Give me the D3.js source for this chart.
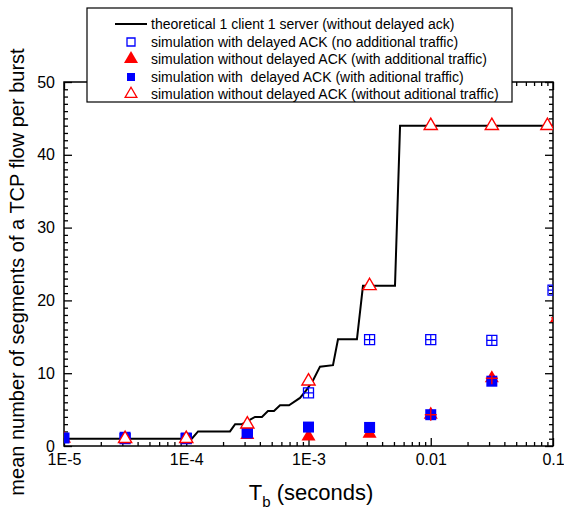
<!DOCTYPE html>
<html>
<head>
<meta charset="utf-8">
<title>segments per burst vs Tb</title>
<style>
body { margin: 0; background: #fff; }
svg text { font-family: "Liberation Sans", Arial, Helvetica, sans-serif; }
</style>
</head>
<body>
<div id="chart"></div>
<script src="https://cdn.jsdelivr.net/npm/d3@7"></script>
<script>

// theoretical curve, vertices of the step line
var theoT = [1e-5, 1.11e-4, 1.25e-4, 2.28e-4, 2.51e-4, 2.86e-4, 3.65e-4, 4.16e-4, 4.66e-4, 5.22e-4,
             5.85e-4, 6.93e-4, 8.52e-4, 9.54e-4, 1.088e-3, 1.242e-3, 1.586e-3, 1.743e-3, 2.49e-3,
             2.79e-3, 5.10e-3, 5.61e-3, 0.1];
var theoN = [1, 1, 2, 2, 3, 3, 4, 4, 4.8, 4.8,
             5.6, 5.6, 6.6, 7.6, 9, 10.9, 11.1, 14.65, 14.65,
             22, 22, 44, 44];

// simulations
var simT      = [1e-5, 3.16e-5, 1e-4, 3.16e-4, 1e-3, 3.16e-3, 0.01, 0.0316, 0.1];
var dackNoAdd = [null, 1, 1, 2, 7.3, 14.6, 14.6, 14.5, 21.4];   // open squares
var noDackAddT = [1e-5, 3.16e-5, 1e-4, 3.16e-4, 1e-3, 3.16e-3, 0.01, 0.0316, 0.108];
var noDackAdd = [1, 1, 1, 1.5, 1.3, 1.7, 4.3, 9.3, 17.6];       // filled triangles
var noDackAddErr = [0, 0, 0, 0, 0, 0, 1, 1, 1];
var dackAdd   = [1.1, 1.2, 1.1, 1.8, 2.6, 2.55, 4.3, 8.9, null]; // filled squares
var noDackNoAddT = [1e-5, 3.16e-5, 1e-4, 3.16e-4, 1e-3, 3.16e-3, 0.01, 0.0316, 0.09];
var noDackNoAdd = [null, 1, 1, 3, 8.9, 22, 44, 44, 44];          // open triangles

var xTicks = [1e-5, 1e-4, 1e-3, 0.01, 0.1];
var xTickLabels = ["1E-5", "1E-4", "1E-3", "0.01", "0.1"];
var yTicks = [0, 10, 20, 30, 40, 50];

var legendLabels = [
  "theoretical 1 client 1 server (without delayed ack)",
  "simulation with delayed ACK (no additional traffic)",
  "simulation without delayed ACK (with additional traffic)",
  "simulation with  delayed ACK (with aditional traffic)",
  "simulation without delayed ACK (without aditional traffic)"
];

var width = 564, height = 513;
var pLeft = 64, pRight = 553, pTop = 82, pBottom = 446;

var x = d3.scaleLog().domain([1e-5, 0.1]).range([pLeft, pRight]);
var y = d3.scaleLinear().domain([0, 50]).range([pBottom, pTop]);

var svg = d3.select("#chart").append("svg")
  .attr("width", width)
  .attr("height", height);

svg.append("defs").append("clipPath").attr("id", "plotclip")
  .append("rect").attr("x", pLeft).attr("y", pTop)
  .attr("width", pRight - pLeft).attr("height", pBottom - pTop);

// minor ticks
var xMinor = [];
for (var e = -5; e < -1; e++) {
  for (var k = 2; k <= 9; k++) xMinor.push(k * Math.pow(10, e));
}
var yMinor = d3.range(0, 51, 1).filter(function(v) { return v % 10 != 0; });

function noLabels(a) { return a.tickFormat(""); }

svg.append("g").attr("transform", "translate(0," + pBottom + ")")
  .call(noLabels(d3.axisBottom(x).tickValues(xMinor).tickSize(-4)));
svg.append("g").attr("transform", "translate(0," + pTop + ")")
  .call(noLabels(d3.axisTop(x).tickValues(xMinor).tickSize(-4)));
svg.append("g").attr("transform", "translate(" + pLeft + ",0)")
  .call(noLabels(d3.axisLeft(y).tickValues(yMinor).tickSize(-4)));
svg.append("g").attr("transform", "translate(" + pRight + ",0)")
  .call(noLabels(d3.axisRight(y).tickValues(yMinor).tickSize(-4)));

svg.append("g").attr("class", "major").attr("transform", "translate(0," + pBottom + ")")
  .call(d3.axisBottom(x).tickValues(xTicks).tickSize(-8).tickPadding(8)
    .tickFormat(function(d, i) { return xTickLabels[i]; }));
svg.append("g").attr("transform", "translate(0," + pTop + ")")
  .call(noLabels(d3.axisTop(x).tickValues(xTicks).tickSize(-8)));
svg.append("g").attr("class", "major").attr("transform", "translate(" + pLeft + ",0)")
  .call(d3.axisLeft(y).tickValues(yTicks).tickSize(-8).tickPadding(9));
svg.append("g").attr("transform", "translate(" + pRight + ",0)")
  .call(noLabels(d3.axisRight(y).tickValues(yTicks).tickSize(-8)));

svg.selectAll(".tick line").attr("stroke", "#000").attr("stroke-width", 1.3);
svg.selectAll(".domain").remove();
svg.selectAll(".major text").attr("font-size", 16).attr("fill", "#000")
  .style("font-family", '"Liberation Sans", Arial, sans-serif');

// frame
svg.append("rect").attr("x", pLeft).attr("y", pTop)
  .attr("width", pRight - pLeft).attr("height", pBottom - pTop)
  .attr("fill", "none").attr("stroke", "#000").attr("stroke-width", 1.5);

var plot = svg.append("g").attr("clip-path", "url(#plotclip)");

// theoretical line
var line = d3.line()
  .x(function(d, i) { return x(theoT[i]); })
  .y(function(d) { return y(d); });
plot.append("path").datum(theoN)
  .attr("d", line)
  .attr("fill", "none")
  .attr("stroke", "#000")
  .attr("stroke-width", 2);

var blue = "#0000ff", red = "#ff0000";
var sqOpen = d3.symbol().type(d3.symbolSquare).size(100);
var sqFill = d3.symbol().type(d3.symbolSquare).size(121);
var triOpen = d3.symbol().type(d3.symbolTriangle).size(75);
var triFill = d3.symbol().type(d3.symbolTriangle).size(85);

function pts(xs, ys) {
  var out = [];
  ys.forEach(function(v, i) { if (v != null) out.push({ t: xs[i], v: v, i: i }); });
  return out;
}
function tr(d) { return "translate(" + x(d.t) + "," + y(d.v) + ")"; }

// open squares with error cross
var os = plot.selectAll(".os").data(pts(simT, dackNoAdd)).enter().append("g")
  .attr("transform", tr);
os.append("path").attr("d", sqOpen).attr("fill", "none").attr("stroke", blue).attr("stroke-width", 1.3);
os.append("path").attr("d", "M-5,0H5M0,-5V5").attr("stroke", blue).attr("stroke-width", 1.2);

// filled triangles
plot.selectAll(".ft").data(pts(noDackAddT, noDackAdd)).enter().append("path")
  .attr("transform", tr).attr("d", triFill).attr("fill", red);

// filled squares
plot.selectAll(".fs").data(pts(simT, dackAdd)).enter().append("path")
  .attr("transform", tr).attr("d", sqFill).attr("fill", blue);

// open triangles
plot.selectAll(".ot").data(pts(noDackNoAddT, noDackNoAdd)).enter().append("path")
  .attr("transform", tr).attr("d", triOpen).attr("fill", "#fff").attr("stroke", red).attr("stroke-width", 1.4);

// error crosses of filled triangles
plot.selectAll(".fe").data(pts(noDackAddT, noDackAdd).filter(function(d) { return noDackAddErr[d.i]; }))
  .enter().append("path")
  .attr("transform", tr).attr("d", "M-6,0H6M0,-6V6")
  .attr("stroke", red).attr("stroke-width", 1.4);

// legend
var lg = svg.append("g");
lg.append("rect").attr("x", 87).attr("y", 8).attr("width", 425).attr("height", 94)
  .attr("fill", "#fff").attr("stroke", "#000").attr("stroke-width", 1.2);
var rowY = [24, 42, 59, 77, 94];
lg.append("line").attr("x1", 115).attr("x2", 147).attr("y1", rowY[0]).attr("y2", rowY[0])
  .attr("stroke", "#000").attr("stroke-width", 2);
lg.append("path").attr("transform", "translate(131," + rowY[1] + ")").attr("d", sqOpen.size(64))
  .attr("fill", "none").attr("stroke", blue).attr("stroke-width", 1.3);
lg.append("path").attr("transform", "translate(131," + rowY[2] + ")").attr("d", triFill)
  .attr("fill", red);
lg.append("path").attr("transform", "translate(131," + rowY[3] + ")").attr("d", sqFill.size(64))
  .attr("fill", blue);
lg.append("path").attr("transform", "translate(131," + rowY[4] + ")").attr("d", triOpen.size(60))
  .attr("fill", "#fff").attr("stroke", red).attr("stroke-width", 1.3);
lg.selectAll(".lt").data(legendLabels).enter().append("text")
  .attr("x", 151).attr("y", function(d, i) { return rowY[i]; })
  .attr("dy", "0.36em").attr("font-size", 14).attr("fill", "#000")
  .style("white-space", "pre")
  .text(function(d) { return d; });

// axis titles
svg.append("text")
  .attr("transform", "translate(24,272) rotate(-90)")
  .attr("text-anchor", "middle").attr("font-size", 20).attr("fill", "#000")
  .text("mean number of segments of a TCP flow per burst");

var xt = svg.append("text").attr("x", 311).attr("y", 500)
  .attr("text-anchor", "middle").attr("font-size", 22).attr("fill", "#000");
xt.append("tspan").text("T");
xt.append("tspan").attr("font-size", 15).attr("dy", 7).text("b");
xt.append("tspan").attr("dy", -7).text(" (seconds)");

</script>
</body>
</html>
